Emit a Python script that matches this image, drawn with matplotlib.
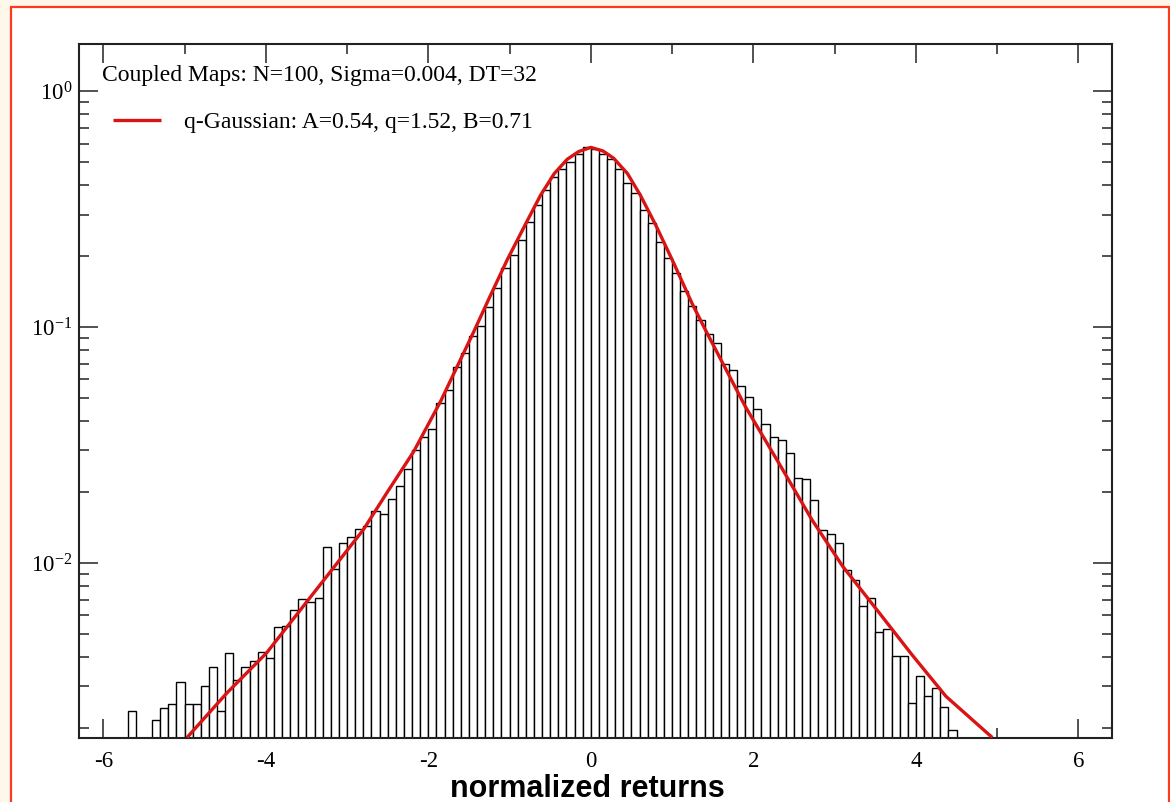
"""Histogram of normalized returns (coupled maps) with q-Gaussian fit, log y."""
import numpy as np
import matplotlib
matplotlib.use('Agg')
import matplotlib.pyplot as plt
from matplotlib.patches import Rectangle
from matplotlib.ticker import MultipleLocator, LogLocator, FuncFormatter, NullFormatter

SERIF = 'Liberation Serif'
plt.rcParams['mathtext.fontset'] = 'custom'
plt.rcParams['mathtext.rm'] = SERIF
plt.rcParams['axes.unicode_minus'] = False

# histogram: bins of width 0.1 starting at -5.7, value read per bin (0 = empty)
BIN_START = -5.7
BIN_WIDTH = 0.1
HIST_VALUES = [
    0.00225, 0.0, 0.0, 0.00206, 0.00233, 0.00243, 0.00302, 0.00243, 0.00243, 0.00292,   # -5.7 .. -4.8
    0.00352, 0.00226, 0.00405, 0.00310, 0.00352, 0.00374, 0.00410, 0.00385, 0.00525, 0.00533,  # -4.7 .. -3.8
    0.00620, 0.00692, 0.00673, 0.00701, 0.01164, 0.00937, 0.01204, 0.01277, 0.01380, 0.01421,  # -3.7 .. -2.8
    0.01655, 0.01607, 0.01849, 0.02113, 0.02502, 0.03015, 0.03405, 0.03673, 0.04766, 0.05424,  # -2.7 .. -1.8
    0.06743, 0.07757, 0.09125, 0.1013, 0.1216, 0.1458, 0.1778, 0.2011, 0.2344, 0.2786,         # -1.7 .. -0.8
    0.3298, 0.3818, 0.4346, 0.4671, 0.5031, 0.5424, 0.5791, 0.5678, 0.5424, 0.5165,           # -0.7 .. 0.2
    0.4671, 0.4101, 0.3718, 0.3141, 0.2774, 0.2305, 0.1961, 0.1703, 0.1415, 0.1223,           # 0.3 .. 1.2
    0.1074, 0.09367, 0.08554, 0.06992, 0.06592, 0.05640, 0.05050, 0.04492, 0.03855, 0.03405,  # 1.3 .. 2.2
    0.03307, 0.02924, 0.02292, 0.02254, 0.01842, 0.01374, 0.01314, 0.01204, 0.00925, 0.00833,  # 2.3 .. 3.2
    0.00648, 0.00699, 0.00502, 0.00516, 0.00392, 0.00392, 0.00244, 0.00322, 0.00264, 0.00285,  # 3.3 .. 4.2
    0.00234, 0.00185,                                                                          # 4.3 .. 4.4
]

# q-Gaussian fit curve
CURVE_X = [-4.97, -4.48, -3.99, -3.25, -2.80, -2.50, -2.18, -1.85, -1.44, -1.25, -1.03,
           -0.80, -0.62, -0.45, -0.29, -0.15, 0.0, 0.15, 0.28, 0.45, 0.61, 0.80, 1.02,
           1.25, 1.43, 1.90, 2.30, 2.72, 3.10, 3.55, 3.95, 4.37, 4.94]
CURVE_Y = [0.00182, 0.00281, 0.00416, 0.00878, 0.01384, 0.0201, 0.0297, 0.0484, 0.0958,
           0.133, 0.1928, 0.275, 0.362, 0.448, 0.515, 0.555, 0.578, 0.558, 0.520, 0.448,
           0.362, 0.270, 0.1867, 0.125, 0.0943, 0.0461, 0.0270, 0.01526, 0.00967, 0.00614,
           0.00409, 0.00272, 0.00182]

HIST_LABEL = 'Coupled Maps: N=100, Sigma=0.004, DT=32'
FIT_LABEL = 'q-Gaussian: A=0.54, q=1.52, B=0.71'
XLABEL = 'normalized returns'

W, H = 1170, 802
fig = plt.figure(figsize=(W / 100, H / 100), dpi=100)
fig.patch.set_facecolor('#FFF7EA')
fig.add_artist(Rectangle((11 / W, -0.02), (1169 - 11) / W, 1.02 - 6.5 / H,
                         transform=fig.transFigure, facecolor='white',
                         edgecolor='#FF3A1A', linewidth=1.6, zorder=-5))

ax = fig.add_axes([79.3 / W, 1 - 737.5 / H, (1111.7 - 79.3) / W, (737.5 - 44) / H])
ax.set_facecolor('white')

left = BIN_START + BIN_WIDTH * np.arange(len(HIST_VALUES))
vals = np.array(HIST_VALUES)
keep = vals > 0
ax.bar(left[keep], vals[keep], width=BIN_WIDTH, bottom=1e-4, align='edge',
       facecolor='white', edgecolor='black', linewidth=1.0, zorder=2)

line, = ax.plot(CURVE_X, CURVE_Y, color='#D91414', linewidth=2.4, zorder=3,
                solid_capstyle='butt', solid_joinstyle='round')

ax.set_yscale('log')
ax.set_xlim(-6.296, 6.41)
ax.set_ylim(0.00182, 1.586)

ax.xaxis.set_major_locator(MultipleLocator(2))
ax.xaxis.set_minor_locator(MultipleLocator(1))
ax.xaxis.set_major_formatter(FuncFormatter(lambda v, p: f'{v:g}'))
ax.yaxis.set_major_locator(LogLocator(base=10, numticks=10))
ax.yaxis.set_minor_locator(LogLocator(base=10, subs=np.arange(2, 10), numticks=20))
ax.yaxis.set_minor_formatter(NullFormatter())
ax.yaxis.set_major_formatter(FuncFormatter(
    lambda v, p: r'$\mathregular{10^{%d}}$' % round(np.log10(v))))

ax.tick_params(which='both', direction='in', top=True, right=True,
               color='#222222', width=1.1)
ax.tick_params(which='major', length=13.5)
ax.tick_params(which='minor', length=7.2)
ax.tick_params(axis='x', which='major', pad=10, labelsize=16.5)
ax.tick_params(axis='y', which='major', pad=5, labelsize=16.5)
for lab in ax.get_xticklabels() + ax.get_yticklabels():
    lab.set_fontfamily(SERIF)
for sp in ax.spines.values():
    sp.set_linewidth(1.5)
    sp.set_color('#222222')

# legend: histogram entry has no symbol, the fit has a red line
ax.text((101.7 - 79.3) / 1032.4, (737.5 - 80.7) / 693.5, HIST_LABEL,
        transform=ax.transAxes, fontsize=17, family=SERIF, va='baseline', ha='left')
ax.legend([line], [FIT_LABEL], loc='center left',
          bbox_to_anchor=((113.3 - 79.3) / 1032.4, (737.5 - 122) / 693.5),
          frameon=False, borderpad=0, borderaxespad=0, handlelength=2.0,
          handletextpad=1.0, prop={'family': SERIF, 'size': 17})

fig.text(587 / W, 1 - 797 / H, XLABEL, ha='center', va='baseline',
         fontsize=22, fontweight='bold', family='Liberation Sans')

fig.savefig('out.png', dpi=100, facecolor=fig.get_facecolor())
